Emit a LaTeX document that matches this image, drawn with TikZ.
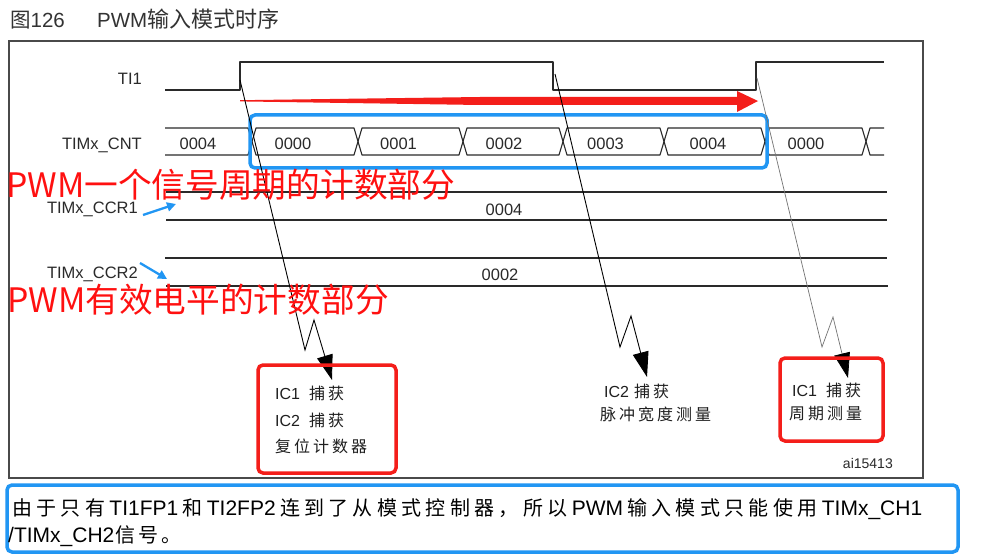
\documentclass[tikz,border=0pt]{standalone}
\usepackage{fontspec}
\setmainfont{Liberation Sans}
\newfontfamily\cjk{Noto Sans CJK SC}
\newfontfamily\latf{Liberation Sans}
\usetikzlibrary{arrows.meta}
\definecolor{wave}{HTML}{2A2A2A}
\definecolor{frame}{HTML}{4A4A4A}
\definecolor{myblue}{HTML}{2196F3}
\definecolor{myred}{HTML}{F41E1A}
\definecolor{txtred}{HTML}{FF1010}
\definecolor{titlec}{HTML}{333333}
\makeatletter
\newcommand\lsp[2]{\@tfor\lsp@c:=#2\do{{\cjk\lsp@c}\kern#1}\unkern}
\makeatother
\newcommand\Lw[1]{{\latf\fontsize{21}{24}\selectfont #1}}
\tikzset{
  wavestyle/.style={draw=wave, line width=1.1pt, line join=round},
  lbl/.style={anchor=base east, inner sep=0pt, font=\fontsize{16.5}{20}\selectfont, text=wave},
  val/.style={anchor=base, inner sep=0pt, font=\fontsize{16.5}{20}\selectfont, text=wave},
  captxt/.style={anchor=base west, inner sep=0pt, font=\fontsize{16}{19}\selectfont, text=black!88},
  redtxt/.style={anchor=base west, inner sep=0pt, text=txtred, font=\cjk\fontsize{33.7}{36}\selectfont},
  bluebox/.style={draw=myblue, line width=3.5pt, rounded corners=5pt},
  redbox/.style={draw=myred, line width=3.5pt, rounded corners=5pt},
  arr/.style={draw=black, line width=0.9pt, -{Triangle[length=25pt,width=16pt]}},
  arrgray/.style={draw=black!55, line width=0.7pt, -{Triangle[length=25pt,width=16pt,color=black]}},
  bluearr/.style={draw=myblue, line width=2.3pt, -{Triangle[length=9pt,width=9pt]}},
}
\begin{document}
\begin{tikzpicture}[x=1pt,y=-1pt]
\useasboundingbox (0,0) rectangle (992,556);
\fill[white] (0,0) rectangle (992,556);

% title
\node[anchor=base west, inner sep=0pt, text=titlec, font=\fontsize{20.5}{24}\selectfont] (title1) at (10,28) {{\cjk 图}126};
\node[anchor=base west, inner sep=0pt, text=titlec, font=\fontsize{20.5}{24}\selectfont] (title2) at (97,28) {PWM{\cjk\fontsize{22}{24}\selectfont 输入模式时序}};

% frame
\draw[draw=frame, line width=1.2pt] (9,41) rectangle (923,478);

% signal labels
\node[lbl] (lti) at (142,84.5) {TI1};
\node[lbl] (lcnt) at (142,150) {TIMx\_CNT};
\node[lbl] (lccr1) at (138,213.5) {TIMx\_CCR1};
\node[lbl] (lccr2) at (138,278.5) {TIMx\_CCR2};

% TI1 waveform
\draw[wavestyle] (165,90) -- (240,90) -- (240,62) -- (553,62) -- (553,90) -- (756,90) -- (756,62) -- (884,62);

% CNT bus
\draw[wavestyle] (165,128) -- (248,128) -- (252,141.5) -- (248,155) -- (165,155);
\foreach \a/\b in {252/358,358/463,463/563,563/664,664/765,765/866}{
  \draw[wavestyle] (\a,141.5) -- (\a+4,128) -- (\b-4,128) -- (\b,141.5) -- (\b-4,155) -- (\a+4,155) -- cycle;
}
\draw[wavestyle] (884,128) -- (870,128) -- (866,141.5) -- (870,155) -- (884,155);
\node[val] (v0) at (198,149.5) {0004};
\node[val] (v1) at (293,149.5) {0000};
\node[val] (v2) at (398.5,149.5) {0001};
\node[val] (v3) at (504,149.5) {0002};
\node[val] (v4) at (605.5,149.5) {0003};
\node[val] (v5) at (708,149.5) {0004};
\node[val] (v6) at (806,149.5) {0000};

% CCR buses
\draw[wavestyle] (166,192) -- (887,192);
\draw[wavestyle] (166,220) -- (887,220);
\draw[wavestyle] (165,258) -- (887,258);
\draw[wavestyle] (166,286) -- (888,286);
\node[val] (c1v) at (504,215) {0004};
\node[val] (c2v) at (500,280) {0002};

% red period arrow
\fill[myred] (240,100.2) -- (480,97) -- (737,97) -- (737,91) -- (758,101) -- (737,112) -- (737,105) -- (480,105) -- (240,101.4) -- cycle;

% blue box round CNT
\draw[bluebox] (250,115) rectangle (767,168);

% blue small arrows
\coordinate (b1s) at (143,215);
\coordinate (b1e) at (176,204);
\coordinate (b2s) at (140,263);
\coordinate (b2e) at (167,279);
\draw[bluearr] (b1s) -- (b1e);
\draw[bluearr] (b2s) -- (b2e);

% capture arrows
\coordinate (e1) at (240,80);
\coordinate (z1a) at (305,350);
\coordinate (z1b) at (314,320);
\coordinate (t1) at (332,380);
\coordinate (e2) at (555,74);
\coordinate (z2a) at (620,347);
\coordinate (z2b) at (631,316);
\coordinate (t2) at (647,377);
\coordinate (e3) at (757,78);
\coordinate (z3a) at (822,347);
\coordinate (z3b) at (833,317);
\coordinate (t3) at (848,378);
\draw[arr] (e1) -- (z1a) -- (z1b) -- (t1);
\draw[arr] (e2) -- (z2a) -- (z2b) -- (t2);
\draw[arrgray] (e3) -- (z3a) -- (z3b) -- (t3);

% red annotations
\node[redtxt] (r1) at (6,197.5) {PWM一个信号周期的计数部分};
\node[redtxt] (r2) at (7,312) {PWM有效电平的计数部分};

% capture labels
\node[captxt] (a1) at (275,399.5) {IC1\hspace{9pt}\lsp{3pt}{捕获}};
\node[captxt] (a2) at (275,426) {IC2\hspace{9pt}\lsp{3pt}{捕获}};
\node[captxt] (a3) at (275,452.5) {\lsp{3pt}{复位计数器}};
\node[captxt] (m1) at (604,397.5) {IC2\hspace{5pt}\lsp{3pt}{捕获}};
\node[captxt] (m2) at (600,420.5) {\lsp{3pt}{脉冲宽度测量}};
\node[captxt] (p1) at (792,396.5) {IC1\hspace{9pt}\lsp{3pt}{捕获}};
\node[captxt] (p2) at (789,419) {\lsp{3pt}{周期测量}};

% red boxes
\draw[redbox] (258,365) rectangle (396,473);
\draw[redbox] (780,358) rectangle (883,441);

\node[anchor=base east, inner sep=0pt, text=wave, font=\fontsize{14}{16}\selectfont] (ai) at (893,468) {ai15413};

% bottom note
\draw[bluebox] (7,485) rectangle (958,552);
\node[anchor=base west, inner sep=0pt, text=black, font=\cjk\fontsize{20}{24}\selectfont] (n1) at (12,515.5)
 {\makebox[910pt][s]{由\hfil 于\hfil 只\hfil 有\hfil\Lw{TI1FP1}\hfil 和\hfil\Lw{TI2FP2}\hfil 连\hfil 到\hfil 了\hfil 从\hfil 模\hfil 式\hfil 控\hfil 制\hfil 器\hfil ，\hfil 所\hfil 以\hfil\Lw{PWM}\hfil 输\hfil 入\hfil 模\hfil 式\hfil 只\hfil 能\hfil 使\hfil 用\hfil\Lw{TIMx\_CH1}}};
\node[anchor=base west, inner sep=0pt, text=black, font=\cjk\fontsize{20}{24}\selectfont] (n2) at (8,542.5)
 {\Lw{/TIMx\_CH2}\kern1pt 信\kern3pt 号\kern3pt 。};
\end{tikzpicture}
\end{document}
